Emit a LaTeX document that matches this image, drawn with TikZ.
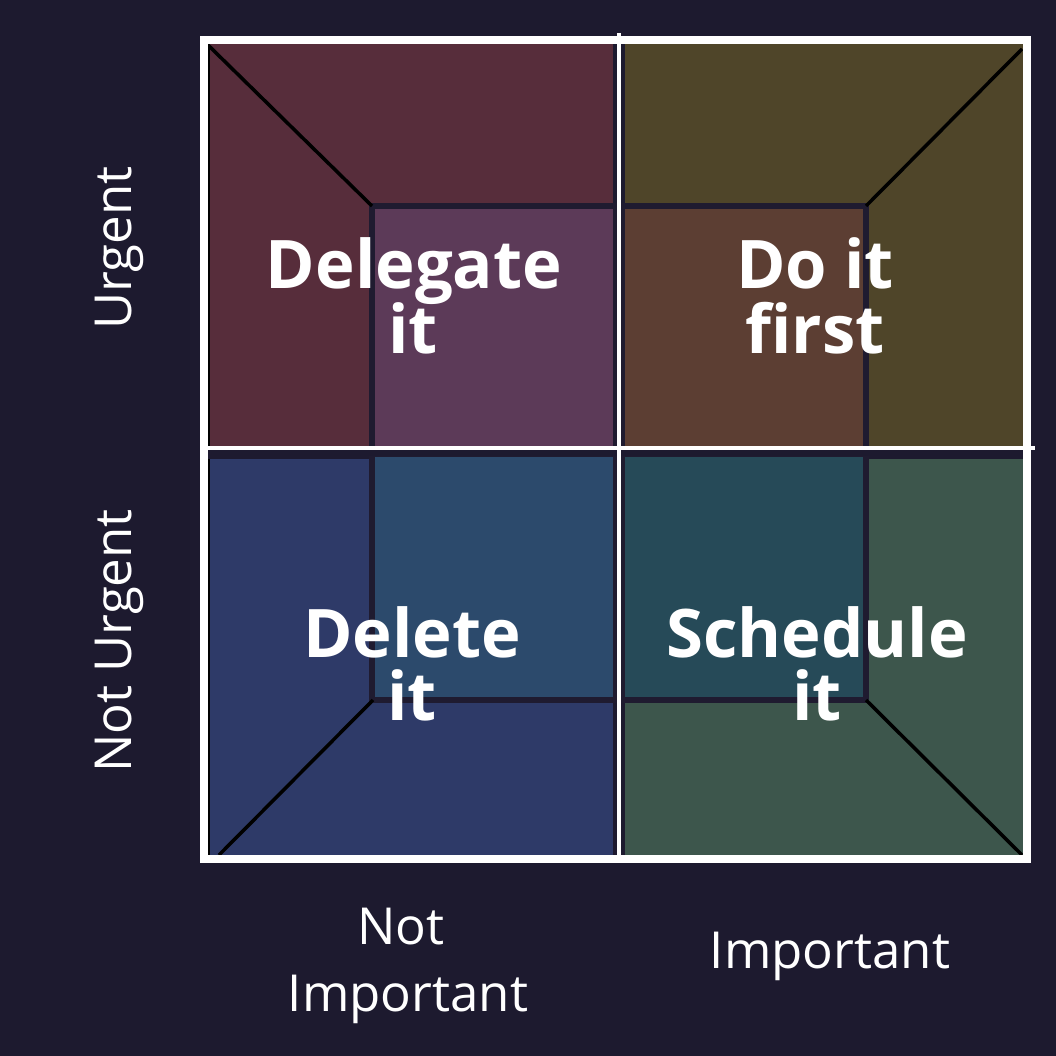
\documentclass[tikz,border=0pt]{standalone}
\usepackage{fontspec}
\setmainfont{Open Sans}
\definecolor{bg}{HTML}{1D1A2F}
\definecolor{edge}{HTML}{1F1B30}
\definecolor{tlout}{HTML}{572D3B}
\definecolor{tlin}{HTML}{5C3A58}
\definecolor{trout}{HTML}{4F4529}
\definecolor{trin}{HTML}{5C3E33}
\definecolor{blout}{HTML}{2E3A68}
\definecolor{blin}{HTML}{2C4A6C}
\definecolor{brout}{HTML}{3D564C}
\definecolor{brin}{HTML}{264A58}
\tikzset{
  innerbox/.style={draw=edge, line width=6pt},
  diag/.style={draw=black, line width=3.5pt},
  frame/.style={draw=white, line width=8pt},
  divider/.style={draw=white, line width=4pt},
  quadlabel/.style={text=white, font=\fontsize{67}{67}\selectfont\bfseries, inner sep=0pt, anchor=base},
  axislabel/.style={text=white, font=\fontsize{51}{51}\selectfont, inner sep=0pt, anchor=base}
}
\begin{document}
\begin{tikzpicture}[x=1pt,y=-1pt]
\fill[bg] (0,0) rectangle (1056,1056);
\useasboundingbox (0,0) rectangle (1056,1056);

% quadrant backgrounds
\fill[tlout] (207,44) rectangle (613,446);
\fill[trout] (625,44) rectangle (1023,446);
\fill[blout] (207,459) rectangle (613,855);
\fill[brout] (625,459) rectangle (1023,855);

% inner panels
\path[innerbox, fill=tlin] (372,206) rectangle (616,449);
\path[innerbox, fill=trin] (622,206) rectangle (866,449);
\path[innerbox, fill=blin] (372,454) rectangle (616,700);
\path[innerbox, fill=brin] (622,454) rectangle (866,700);
\fill[bg] (207,450) rectangle (1023,456);

% corner diagonals
\coordinate (tlc) at (209,46);
\coordinate (tli) at (372,206);
\coordinate (trc) at (1022,49);
\coordinate (tri) at (866,206);
\coordinate (blc) at (219,855);
\coordinate (bli) at (373,700);
\coordinate (brc) at (1022,855);
\coordinate (bri) at (866,700);
\path[diag] (tlc) -- (tli);
\path[diag] (trc) -- (tri);
\path[diag] (blc) -- (bli);
\path[diag] (brc) -- (bri);

% left edge rules
\draw[black, line width=2.5pt] (209,44) -- (209,446);
\draw[black, line width=2.5pt] (209,459) -- (209,855);

% outer frame and dividers
\path[frame] (204,40) rectangle (1027,859);
\coordinate (vtop) at (619,33);
\coordinate (vbot) at (619,859);
\coordinate (hl) at (204,448);
\coordinate (hr) at (1035,448);
\path[divider] (vtop) -- (vbot);
\path[divider] (hl) -- (hr);

% quadrant labels
\node[quadlabel] (dl1) at (414,288) {Delegate};
\node[quadlabel] (dl2) at (413,353) {it};
\node[quadlabel] (df1) at (815,288) {Do it};
\node[quadlabel] (df2) at (815,353) {first};
\node[quadlabel] (de1) at (412,657) {Delete};
\node[quadlabel] (de2) at (412,720) {it};
\node[quadlabel] (sc1) at (817,657) {Schedule};
\node[quadlabel] (sc2) at (817,720) {it};

% axis labels
\node[axislabel, rotate=90] (urg) at (131,248) {Urgent};
\node[axislabel, rotate=90] (nurg) at (131,641) {Not Urgent};
\node[axislabel] (ni1) at (401,944) {Not};
\node[axislabel] (ni2) at (408,1011) {Important};
\node[axislabel] (imp) at (830,968) {Important};
\end{tikzpicture}
\end{document}
